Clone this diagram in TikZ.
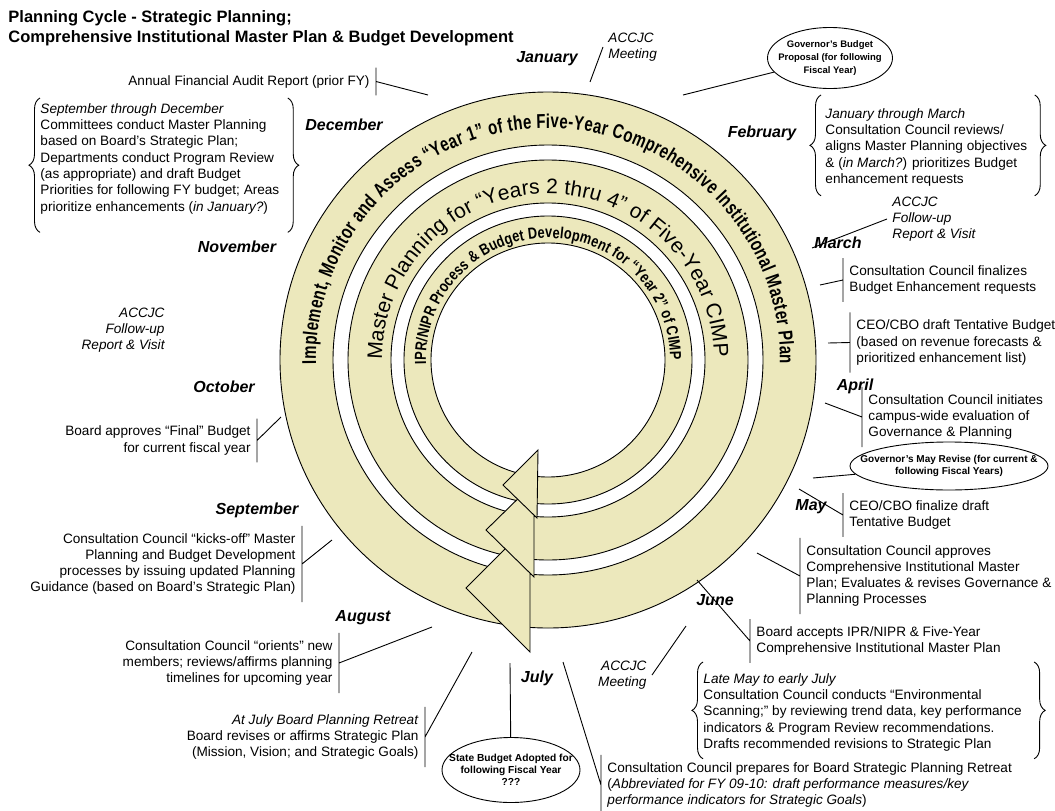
\documentclass[tikz,border=0pt]{standalone}
\usepackage{fontspec}
\setmainfont{Liberation Sans}
\newfontfamily\ringfont[FakeStretch=0.75]{Liberation Sans}
\newfontfamily\innerfont[FakeStretch=0.8]{Liberation Sans}
\usetikzlibrary{shapes.geometric,decorations.text,decorations.pathreplacing}
\definecolor{ringtan}{RGB}{236,232,188}
\newcommand{\notesize}{\fontsize{13.6}{16.3}\selectfont}
\tikzset{month/.style={font=\fontsize{16}{16}\selectfont\bfseries\itshape, inner sep=0pt},
	lnote/.style={font=\notesize, align=right, anchor=east, inner xsep=6pt, inner ysep=7pt},
	rnote/.style={font=\notesize, align=left, anchor=west, inner xsep=6pt, inner ysep=7pt},
	bnote/.style={font=\notesize, align=left, anchor=north west, inner sep=0pt},
	accjc/.style={font=\notesize\itshape, inner xsep=5pt, inner ysep=0pt},
	fiscal/.style={ellipse, draw, align=center, inner xsep=-30pt, inner ysep=-8pt},
	curly/.style={decorate, decoration={brace, amplitude=11pt}},
	ringhead/.style={draw, fill=ringtan}}

\begin{document}
\begin{tikzpicture}[x=1pt, y=1pt, line width=0.9pt]
		\useasboundingbox (0,0) rectangle (1055,-811);
		% the three rings
		\coordinate (ctr) at (548,-360);
		\fill[ringtan, even odd rule] (ctr) circle (268) (ctr) circle (215);
		\draw (ctr) circle (268) (ctr) circle (215);
		\fill[ringtan, even odd rule] (ctr) circle (200) (ctr) circle (157);
		\draw (ctr) circle (200) (ctr) circle (157);
		\fill[ringtan, even odd rule] (ctr) circle (144) (ctr) circle (117);
		\draw (ctr) circle (144) (ctr) circle (117);
		\path[decorate, decoration={text along path, text align={fit to path}, text={|\ringfont\bfseries\fontsize{20}{20}\selectfont|Implement, Monitor and Assess “Year 1” of the Five-Year Comprehensive Institutional Master Plan}}] ([shift={(181:232)}]ctr) arc[start angle=181, end angle=-1, radius=232];
		\path[decorate, decoration={text along path, text align={fit to path}, text={|\fontsize{21}{21}\selectfont|Master Planning for “Years 2 thru 4” of Five-Year CIMP}}] ([shift={(180:166)}]ctr) arc[start angle=180, end angle=1, radius=166];
		\path[decorate, decoration={text along path, text align={fit to path}, text={|\innerfont\bfseries\fontsize{16}{16}\selectfont|IPR/NIPR Process {\&} Budget Development for “Year 2” of CIMP}}] ([shift={(182:122)}]ctr) arc[start angle=182, end angle=0, radius=122];
		\draw[ringhead] (530,-524) -- (466,-588) -- (530,-652) -- cycle;
		\draw[ringhead] (534,-483) -- (486,-530) -- (534,-577) -- cycle;
		\draw[ringhead] (538,-450) -- (503,-485) -- (537,-518) -- cycle;

		\node[anchor=north west, inner sep=0pt, align=left, font=\fontsize{16.5}{20}\selectfont\bfseries] (title) at (8,-10) {Planning Cycle - Strategic Planning;\\Comprehensive Institutional Master Plan \& Budget Development};

		% months
		\node[month] (jan) at (547,-59) {January};
		\node[month] (feb) at (762,-133) {February};
		\node[month] (mar) at (838,-243) {March};
		\node[month] (apr) at (855,-386) {April};
		\node[month] (may) at (811,-507) {May};
		\node[month] (jun) at (715,-600) {June};
		\node[month] (jul) at (537,-678) {July};
		\node[month] (aug) at (363,-618) {August};
		\node[month] (sep) at (257,-510) {September};
		\node[month] (oct) at (224,-387) {October};
		\node[month] (nov) at (237,-247) {November};
		\node[month] (dec) at (344,-125) {December};

		% ring side ends of the leader lines
		\coordinate (pAudit) at (428,-95);
		\coordinate (pAccjcA) at (590,-82);
		\coordinate (pGovBud) at (683,-95);
		\coordinate (pAccjcR) at (812,-248);
		\coordinate (pEnhance) at (820,-285);
		\coordinate (pTentative) at (828,-343);
		\coordinate (pEvaluate) at (825,-403);
		\coordinate (pGovMay) at (813,-478);
		\coordinate (pFinalize) at (799,-489);
		\coordinate (pApprove) at (757,-553);
		\coordinate (pAccept) at (697,-580);
		\coordinate (pAccjcB) at (686,-626);
		\coordinate (pPrepare) at (563,-662);
		\coordinate (pStBud) at (510,-663);
		\coordinate (pRetreat) at (472,-652);
		\coordinate (pOrient) at (432,-627);
		\coordinate (pKick) at (332,-540);
		\coordinate (pFinal) at (281,-417);

		% left side
		\node[lnote] (audit) at (376,-81.5) {Annual Financial Audit Report (prior FY)};
		\draw (audit.north east) -- (audit.south east) (audit.east) -- (pAudit);
		\node[bnote] (septdec) at (40,-103) {\textit{September through December}\\Committees conduct Master Planning\\based on Board’s Strategic Plan;\\Departments conduct Program Review\\(as appropriate) and draft Budget\\Priorities for following FY budget; Areas\\prioritize enhancements (\textit{in January?})};
		\draw[curly] ([shift={(0pt,-18pt)}]septdec.south west) -- ([shift={(0pt,5pt)}]septdec.north west);
		\draw[curly] ([shift={(8pt,5pt)}]septdec.north east) -- ([shift={(8pt,-18pt)}]septdec.south east);
		\node[accjc, align=right, anchor=east] (accjcL) at (170,-330) {ACCJC\\Follow-up\\Report \& Visit};
		\node[lnote] (final) at (257,-440.5) {Board approves “Final” Budget\\for current fiscal year};
		\draw (final.north east) -- (final.south east) (final.east) -- (pFinal);
		\node[lnote] (kickoff) at (302,-564) {Consultation Council “kicks-off” Master\\Planning and Budget Development\\processes by issuing updated Planning\\Guidance (based on Board’s Strategic Plan)};
		\draw (kickoff.north east) -- (kickoff.south east) (kickoff.east) -- (pKick);
		\node[lnote] (orient) at (339,-663) {Consultation Council “orients” new\\members; reviews/affirms planning\\timelines for upcoming year};
		\draw (orient.north east) -- (orient.south east) (orient.east) -- (pOrient);
		\node[lnote] (retreat) at (425,-737) {\textit{At July Board Planning Retreat}\\Board revises or affirms Strategic Plan\\(Mission, Vision; and Strategic Goals)};
		\draw (retreat.north east) -- (retreat.south east) (retreat.east) -- (pRetreat);

		% bottom
		\node[fiscal, minimum width=138pt, minimum height=65pt, font=\fontsize{10.2}{12}\selectfont\bfseries] (stbud) at (511,-770) {State Budget Adopted for\\following Fiscal Year\\???};
		\draw (stbud) -- (pStBud);
		\node[rnote] (prepare) at (601,-785) {Consultation Council prepares for Board Strategic Planning Retreat\\(\textit{Abbreviated for FY 09-10: draft performance measures/key}\\\textit{performance indicators for Strategic Goals})};
		\draw (prepare.north west) -- (prepare.south west) (prepare.west) -- (pPrepare);
		\node[accjc, align=right, anchor=east] (accjcB) at (652,-675) {ACCJC\\Meeting};
		\draw (accjcB.east) -- (pAccjcB);

		% top and right side
		\node[accjc, align=left, anchor=west] (accjcA) at (603,-47) {ACCJC\\Meeting};
		\draw (accjcA.west) -- (pAccjcA);
		\node[fiscal, minimum width=125pt, minimum height=61pt, font=\fontsize{9.5}{13.3}\selectfont\bfseries] (govbud) at (830,-58) {Governor’s Budget\\Proposal (for following\\Fiscal Year)};
		\draw (govbud) -- (pGovBud);
		\node[bnote] (janmar) at (825,-108) {\textit{January through March}\\Consultation Council reviews/\\aligns Master Planning objectives\\\& (\textit{in March?}) prioritizes Budget\\enhancement requests};
		\draw[curly] ([shift={(-4pt,-9pt)}]janmar.south west) -- ([shift={(-4pt,13pt)}]janmar.north west);
		\draw[curly] ([shift={(7pt,13pt)}]janmar.north east) -- ([shift={(7pt,-9pt)}]janmar.south east);
		\node[accjc, align=left, anchor=west] (accjcR) at (887,-219) {ACCJC\\Follow-up\\Report \& Visit};
		\draw (accjcR.west) -- (pAccjcR);
		\node[rnote] (enhance) at (843,-280) {Consultation Council finalizes\\Budget Enhancement requests};
		\draw (enhance.north west) -- (enhance.south west) (enhance.west) -- (pEnhance);
		\node[rnote] (tentative) at (850,-342.5) {CEO/CBO draft Tentative Budget\\(based on revenue forecasts \&\\prioritized enhancement list)};
		\draw (tentative.north west) -- (tentative.south west) (tentative.west) -- (pTentative);
		\node[rnote] (evaluate) at (862,-417) {Consultation Council initiates\\campus-wide evaluation of\\Governance \& Planning};
		\draw (evaluate.north west) -- (evaluate.south west) (evaluate.west) -- (pEvaluate);
		\node[fiscal, minimum width=198pt, minimum height=48pt, font=\fontsize{10}{11.5}\selectfont\bfseries] (govmay) at (949,-466) {Governor’s May Revise (for current \&\\following Fiscal Years)};
		\draw (govmay) -- (pGovMay);
		\node[rnote] (finalize) at (843,-515) {CEO/CBO finalize draft\\Tentative Budget};
		\draw (finalize.north west) -- (finalize.south west) (finalize.west) -- (pFinalize);
		\node[rnote] (approve) at (800,-576) {Consultation Council approves\\Comprehensive Institutional Master\\Plan; Evaluates \& revises Governance \&\\Planning Processes};
		\draw (approve.north west) -- (approve.south west) (approve.west) -- (pApprove);
		\node[rnote] (accept) at (750,-641) {Board accepts IPR/NIPR \& Five-Year\\Comprehensive Institutional Master Plan};
		\draw (accept.north west) -- (accept.south west) (accept.west) -- (pAccept);
		\node[bnote] (scan) at (703,-673) {\textit{Late May to early July}\\Consultation Council conducts “Environmental\\Scanning;” by reviewing trend data, key performance\\indicators \& Program Review recommendations.\\Drafts recommended revisions to Strategic Plan};
		\draw[curly] ([shift={(0pt,-7pt)}]scan.south west) -- ([shift={(0pt,11pt)}]scan.north west);
		\draw[curly] ([shift={(12pt,11pt)}]scan.north east) -- ([shift={(12pt,-7pt)}]scan.south east);
\end{tikzpicture}
\end{document}
